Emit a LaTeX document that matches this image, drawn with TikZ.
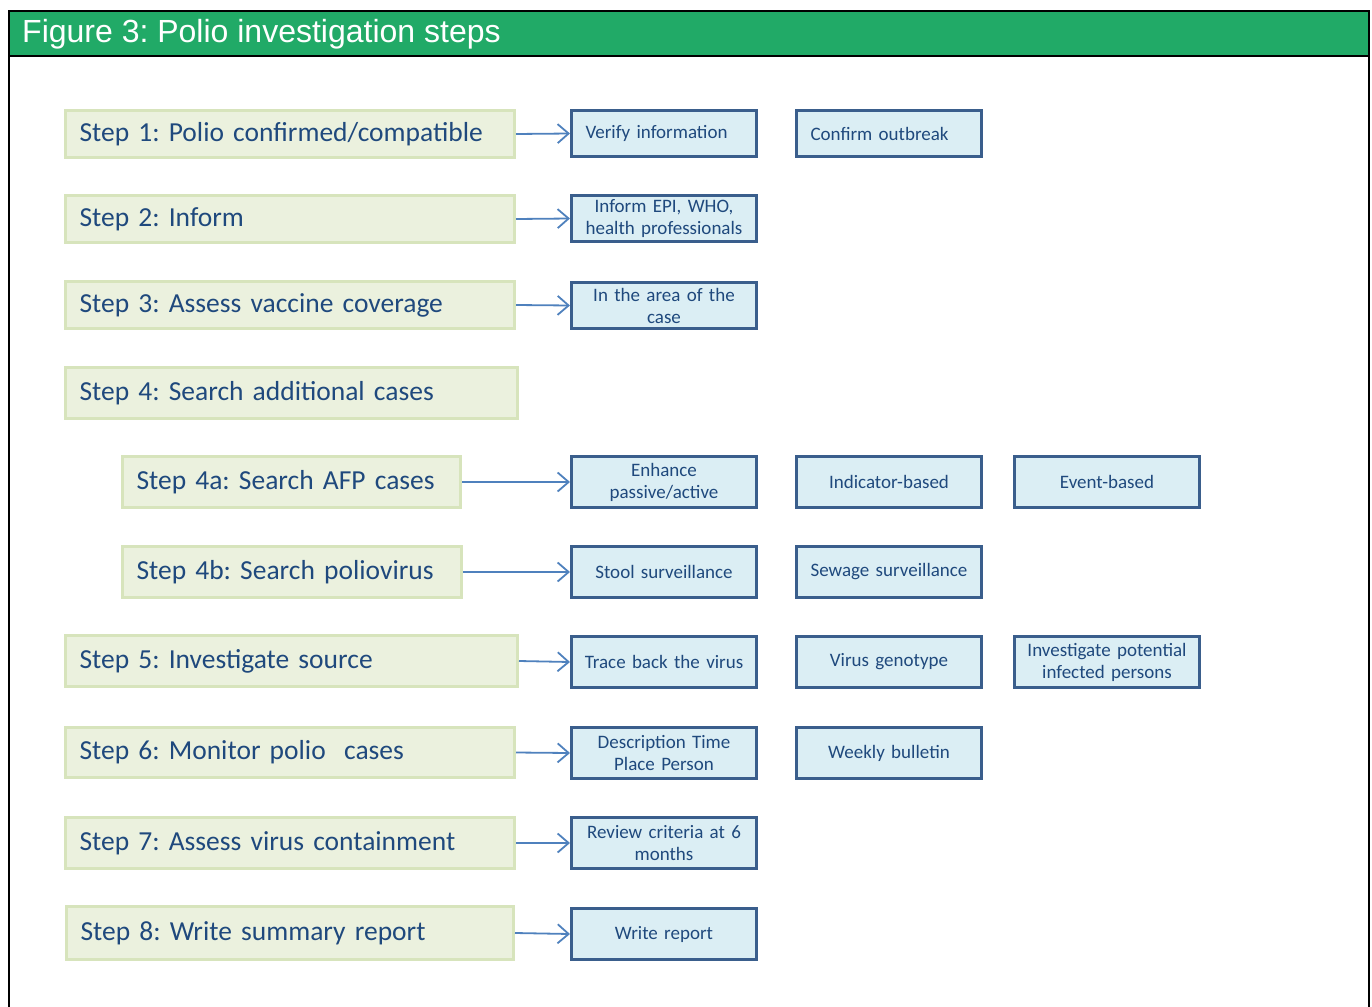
\documentclass[tikz,border=0pt]{standalone}
\usepackage{fontspec}
\setmainfont{Carlito}
\newfontfamily\titlefont{Liberation Sans}
\usetikzlibrary{arrows.meta}
\definecolor{hdrgreen}{HTML}{21AA67}
\definecolor{stepfill}{HTML}{EBF1DE}
\definecolor{stepedge}{HTML}{D7E4BC}
\definecolor{taskfill}{HTML}{DBEEF4}
\definecolor{taskedge}{HTML}{3A5E8C}
\definecolor{ink}{HTML}{1F497D}
\definecolor{arrowblue}{HTML}{4F81BD}
\tikzset{
  stepbox/.style={draw=stepedge, fill=stepfill, line width=3pt, anchor=north west,
    inner xsep=14pt, inner ysep=0pt, align=left, text=ink,
    font=\fontsize{27.5}{31}\selectfont},
  taskbox/.style={draw=taskedge, fill=taskfill, line width=3pt, anchor=north west,
    minimum width=185pt, inner xsep=3pt, inner ysep=0pt, text width=179pt,
    align=center, text=ink, font=\fontsize{19}{22}\selectfont},
  lefttask/.style={taskbox, inner xsep=14pt, text width=157pt, align=left},
  link/.style={draw=arrowblue, line width=1.8pt,
    -{Straight Barb[length=11pt,width=19pt,line width=1.8pt]}}
}
\begin{document}
\frenchspacing
\begin{tikzpicture}[x=1pt,y=-1pt]
\useasboundingbox (0,0) rectangle (1372,1006);
% outer frame and title bar
\draw[line width=2pt] (9,1010) -- (9,11) -- (1369,11) -- (1369,1010);
\fill[hdrgreen] (9,11) rectangle (1369,56);
\draw[line width=2pt] (9,11) rectangle (1369,56);
\node[anchor=west, text=white, font=\titlefont\fontsize{32}{35}\selectfont, inner sep=0pt]
  (title) at (22,34) {Figure 3: Polio investigation steps};

% investigation steps
\node[stepbox, text width=421pt, minimum height=47pt] (s1) at (64,109) {Step 1: Polio confirmed/compatible};
\node[stepbox, text width=421pt, minimum height=47pt] (s2) at (64,194) {Step 2: Inform};
\node[stepbox, text width=421pt, minimum height=47pt] (s3) at (64,280) {Step 3: Assess vaccine coverage};
\node[stepbox, text width=424pt, minimum height=51pt] (s4) at (64,366) {Step 4: Search additional cases};
\node[stepbox, text width=310pt, minimum height=51pt] (s4a) at (121,455) {Step 4a: Search AFP cases};
\node[stepbox, text width=311pt, minimum height=51pt] (s4b) at (121,545) {Step 4b: Search poliovirus};
\node[stepbox, text width=424pt, minimum height=51pt] (s5) at (64,634) {Step 5: Investigate source};
\node[stepbox, text width=421pt, minimum height=50pt] (s6) at (64,726) {Step 6: Monitor polio\ \ cases};
\node[stepbox, text width=421pt, minimum height=51pt] (s7) at (64,816) {Step 7: Assess virus containment};
\node[stepbox, text width=419pt, minimum height=53pt] (s8) at (65,905) {Step 8: Write summary report};

% actions
\node[lefttask, minimum height=46pt] (t1a) at (570,109) {Verify information};
\node[lefttask, minimum height=46pt] (t1b) at (795,109) {Confirm outbreak};
\node[taskbox, minimum height=46pt] (t2a) at (570,194) {Inform EPI, WHO,\\health professionals};
\node[taskbox, minimum height=46pt] (t3a) at (570,281) {In the area of the\\case};
\node[taskbox, minimum height=51pt] (t4a1) at (570,455) {Enhance\\passive/active};
\node[taskbox, minimum height=51pt] (t4a2) at (795,455) {Indicator-based};
\node[taskbox, minimum height=51pt] (t4a3) at (1013,455) {Event-based};
\node[taskbox, minimum height=51pt] (t4b1) at (570,545) {Stool surveillance};
\node[taskbox, minimum height=51pt] (t4b2) at (795,545) {Sewage surveillance};
\node[taskbox, minimum height=51pt] (t5a) at (570,635) {Trace back the virus};
\node[taskbox, minimum height=51pt] (t5b) at (795,635) {Virus genotype};
\node[taskbox, minimum height=51pt] (t5c) at (1013,635) {Investigate potential\\infected persons};
\node[taskbox, minimum height=51pt] (t6a) at (570,726) {Description Time\\Place Person};
\node[taskbox, minimum height=51pt] (t6b) at (795,726) {Weekly bulletin};
\node[taskbox, minimum height=51pt] (t7a) at (570,816) {Review criteria at 6\\months};
\node[taskbox, minimum height=51pt] (t8a) at (570,907) {Write report};

% connectors
\draw[link] (s1.east) -- (t1a.west);
\draw[link] (s2.east) -- (t2a.west);
\draw[link] (s3.east) -- (t3a.west);
\draw[link] (s4a.east) -- (t4a1.west);
\draw[link] (s4b.east) -- (t4b1.west);
\draw[link] (s5.east) -- (t5a.west);
\draw[link] (s6.east) -- (t6a.west);
\draw[link] (s7.east) -- (t7a.west);
\draw[link] (s8.east) -- (t8a.west);
\end{tikzpicture}
\end{document}
